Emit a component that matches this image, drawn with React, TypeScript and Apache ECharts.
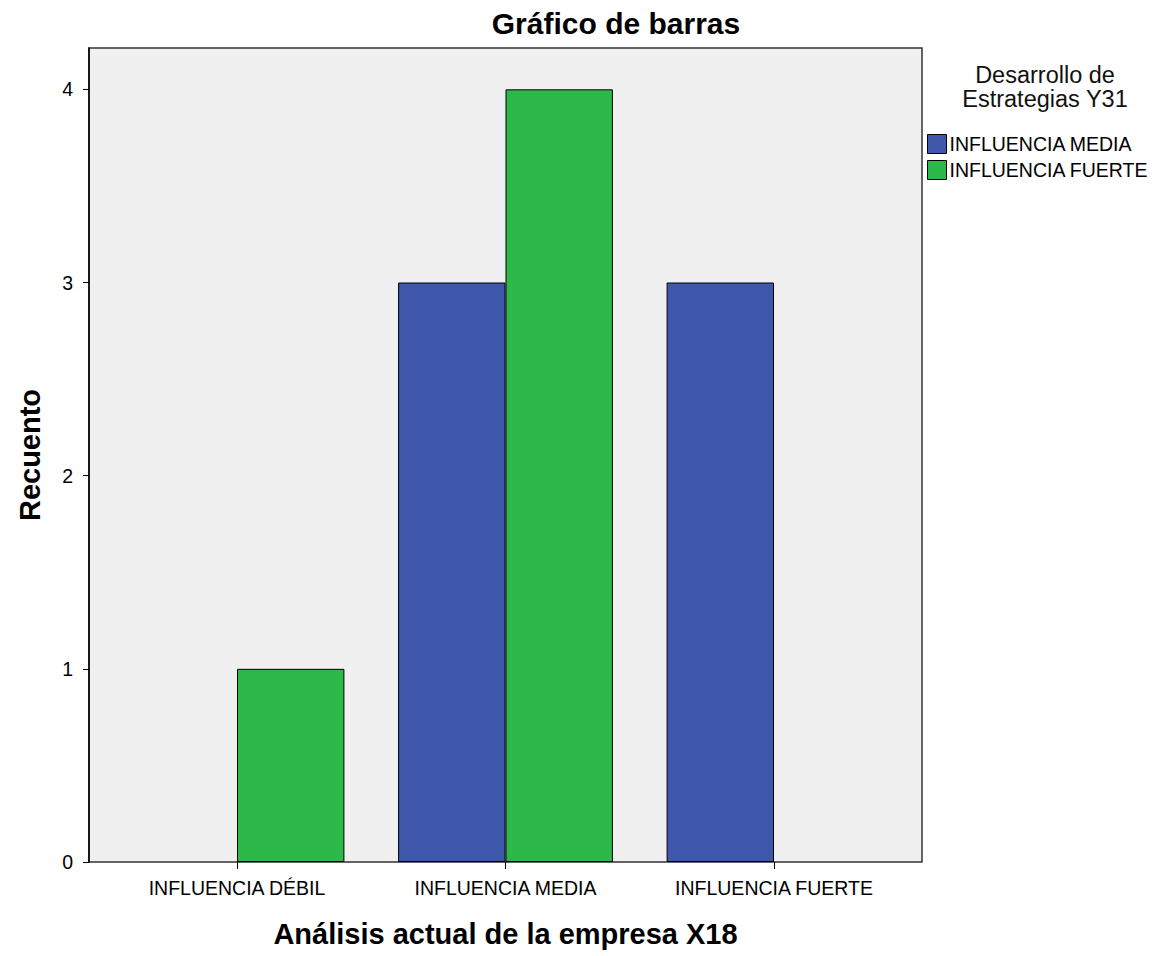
import React, { useEffect, useRef } from "react";
import * as echarts from "echarts";

const categories = ["INFLUENCIA DÉBIL", "INFLUENCIA MEDIA", "INFLUENCIA FUERTE"];
const seriesNames = ["INFLUENCIA MEDIA", "INFLUENCIA FUERTE"];
const valuesMedia = [0, 3, 3];
const valuesFuerte = [1, 4, 0];
const yTicks = [0, 1, 2, 3, 4];
const colors = ["#3E57AB", "#2FB84A"];

const FONT = 'Arial, "Liberation Sans", sans-serif';

const toItems = (vals: number[]) =>
  vals.map((v) => ({ value: v, itemStyle: { borderWidth: v === 0 ? 0 : 1 } }));

export default function App() {
  const ref = useRef<HTMLDivElement>(null);
  useEffect(() => {
    if (!ref.current) return;
    const chart = echarts.init(ref.current, undefined, { renderer: "svg" });
    const plotL = 89, plotR = 922, plotT = 48, plotB = 862;
    const catL = 102.75, catR = 908.25;
    chart.setOption({
      animation: false,
      backgroundColor: "#ffffff",
      textStyle: { fontFamily: FONT },
      title: [
        {
          text: "Gráfico de barras",
          left: 611,
          top: 3,
          textAlign: "center",
          textStyle: { fontFamily: FONT, fontSize: 30, fontWeight: "bold", color: "#000" },
        },
        {
          text: "Desarrollo de\nEstrategias Y31",
          left: 1040,
          top: 58,
          textAlign: "center",
          textStyle: { fontFamily: FONT, fontSize: 23.5, fontWeight: "normal", color: "#111", lineHeight: 24 },
        },
      ],
      legend: {
        orient: "vertical",
        left: 927,
        top: 134,
        padding: 0,
        itemWidth: 19,
        itemHeight: 19,
        itemGap: 6,
        icon: "rect",
        data: seriesNames,
        textStyle: { fontFamily: FONT, fontSize: 19.5, color: "#000", padding: [0, 0, 0, -2] },
        itemStyle: { borderColor: "#000", borderWidth: 1 },
      },
      graphic: [
        {
          type: "rect",
          z: -1,
          shape: { x: plotL, y: plotT, width: plotR - plotL, height: plotB - plotT },
          style: { fill: "#F0F0F0", stroke: "#333", lineWidth: 1.5 },
        },
      ],
      grid: {
        left: catL,
        right: 1156 - catR,
        top: plotT,
        bottom: 956 - plotB,
        containLabel: false,
        outerBoundsMode: "none",
      },
      xAxis: {
        type: "category",
        data: categories,
        name: "Análisis actual de la empresa X18",
        nameLocation: "middle",
        nameGap: 57,
        nameTextStyle: { fontFamily: FONT, fontSize: 29, fontWeight: "bold", color: "#000" },
        axisLine: { show: false },
        axisTick: { show: true, alignWithLabel: true, length: 7, lineStyle: { color: "#000", width: 1 } },
        axisLabel: { fontFamily: FONT, fontSize: 19.5, color: "#000", margin: 16 },
        splitLine: { show: false },
      },
      yAxis: {
        type: "value",
        min: 0,
        max: 4.214,
        interval: 1,
        offset: catL - plotL,
        name: "Recuento",
        nameLocation: "middle",
        nameGap: 45,
        nameTextStyle: { fontFamily: FONT, fontSize: 29, fontWeight: "bold", color: "#000" },
        axisLine: { show: true, lineStyle: { color: "#000", width: 1.5 } },
        axisTick: { show: true, length: 6, customValues: yTicks, lineStyle: { color: "#000", width: 1 } },
        axisLabel: {
          fontFamily: FONT,
          fontSize: 19.5,
          color: "#000",
          margin: 16,
          customValues: yTicks,
          formatter: (v: number) => String(v),
        },
        splitLine: { show: false },
      },
      series: [
        {
          name: seriesNames[0],
          type: "bar",
          data: toItems(valuesMedia),
          barGap: "0%",
          barCategoryGap: "20%",
          itemStyle: { color: colors[0], borderColor: "#000", borderWidth: 1 },
        },
        {
          name: seriesNames[1],
          type: "bar",
          data: toItems(valuesFuerte),
          barGap: "0%",
          barCategoryGap: "20%",
          itemStyle: { color: colors[1], borderColor: "#000", borderWidth: 1 },
        },
      ],
    });
    return () => chart.dispose();
  }, []);
  return (
    <div
      ref={ref}
      style={{ position: "fixed", left: 0, top: 0, width: 1156, height: 956 }}
    />
  );
}
